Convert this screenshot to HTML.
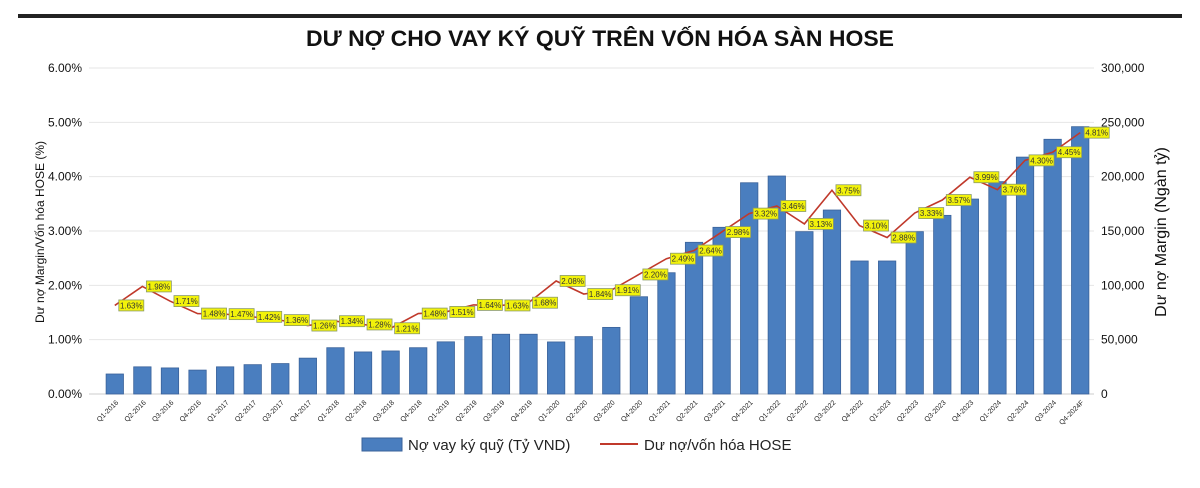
<!DOCTYPE html>
<html><head><meta charset="utf-8"><style>
body{margin:0;background:#fff;width:1200px;height:483px;overflow:hidden;font-family:"Liberation Sans",sans-serif}
</style></head><body>
<svg id="c" width="1200" height="483" xmlns="http://www.w3.org/2000/svg">
<rect x="18" y="14" width="1164" height="4" fill="#222"/>
<text x="600" y="46" text-anchor="middle" font-size="22" font-weight="bold" textLength="588" lengthAdjust="spacingAndGlyphs" fill="#111">DƯ NỢ CHO VAY KÝ QUỸ TRÊN VỐN HÓA SÀN HOSE</text>
<g id="grid"></g><g id="bars"></g><g id="line"></g><g id="labels"></g><g id="axes"></g>
<text transform="translate(44,232) rotate(-90)" text-anchor="middle" font-size="12" fill="#111">Dư nợ Margin/Vốn hóa HOSE  (%)</text>
<text transform="translate(1166,232) rotate(-90)" text-anchor="middle" font-size="16" fill="#111">Dư nợ Margin (Ngàn tỷ)</text>
<g>
<rect x="362" y="438" width="40" height="13" fill="#4a7ebf" stroke="#3a629a"/>
<text x="408" y="450" font-size="15" fill="#222">Nợ vay ký quỹ (Tỷ VND)</text>
<line x1="600" y1="444" x2="638" y2="444" stroke="#c0392b" stroke-width="2"/>
<text x="644" y="450" font-size="15" fill="#222">Dư nợ/vốn hóa HOSE</text>
</g>
</svg>
<script>
const categories=["Q1-2016","Q2-2016","Q3-2016","Q4-2016","Q1-2017","Q2-2017","Q3-2017","Q4-2017","Q1-2018","Q2-2018","Q3-2018","Q4-2018","Q1-2019","Q2-2019","Q3-2019","Q4-2019","Q1-2020","Q2-2020","Q3-2020","Q4-2020","Q1-2021","Q2-2021","Q3-2021","Q4-2021","Q1-2022","Q2-2022","Q3-2022","Q4-2022","Q1-2023","Q2-2023","Q3-2023","Q4-2023","Q1-2024","Q2-2024","Q3-2024","Q4-2024F"];
const loans=[18400,25000,24000,22000,25000,27000,28000,33000,42600,38700,39600,42600,48000,52800,55000,55000,47900,52800,61300,89500,111600,139600,153400,194400,200600,149400,169300,122400,122400,149400,164400,179400,195400,218000,234400,246000];
const ratio=[1.63,1.98,1.71,1.48,1.47,1.42,1.36,1.26,1.34,1.28,1.21,1.48,1.51,1.64,1.63,1.68,2.08,1.84,1.91,2.20,2.49,2.64,2.98,3.32,3.46,3.13,3.75,3.10,2.88,3.33,3.57,3.99,3.76,4.30,4.45,4.81];
const leftTicks=["0.00%","1.00%","2.00%","3.00%","4.00%","5.00%","6.00%"];
const rightTicks=["0","50,000","100,000","150,000","200,000","250,000","300,000"];
const NS="http://www.w3.org/2000/svg";
const X0=101,X1=1094,Y0=394,Y1=68;
const step=(X1-X0)/categories.length;
const xc=i=>X0+step*(i+0.5);
const yL=v=>Y0-(v/6)*(Y0-Y1);
const yR=v=>Y0-(v/300000)*(Y0-Y1);
function mk(tag,attrs,parent,text){const e=document.createElementNS(NS,tag);for(const k in attrs)e.setAttribute(k,attrs[k]);if(text!==undefined)e.textContent=text;document.getElementById(parent).appendChild(e);return e;}
leftTicks.forEach((t,i)=>{
 const y=yL(i);
 const g=mk('line',{x1:89,x2:X1,y1:y,y2:y,stroke:i==0?'#ccc':'#e6e6e6','stroke-width':1},'grid');
 
 
 const a=mk('text',{x:82,y:y+4,'text-anchor':'end','font-size':12,fill:'#111'},'axes',t);
 
 
 const b=mk('text',{x:1101,y:y+4,'font-size':12,fill:'#111'},'axes',rightTicks[i]);
 
 
});
const bw=step*0.63;
loans.forEach((v,i)=>{
 const r=mk('rect',{x:xc(i)-bw/2,y:yR(v),width:bw,height:Y0-yR(v),fill:'#4a7ebf',stroke:'#3a629a','stroke-width':0.8},'bars');
 
 
 const t=mk('text',{transform:`translate(${xc(i)+4},${Y0+9}) rotate(-45)`,'text-anchor':'end','font-size':7,fill:'#222'},'axes',categories[i]);
 
 
});
const pl=mk('polyline',{points:ratio.map((v,i)=>xc(i)+','+yL(v)).join(' '),fill:'none',stroke:'#c0392b','stroke-width':1.6},'line');


ratio.forEach((v,i)=>{
 const x=xc(i)+4,y=yL(v);
 const r=mk('rect',{x:x,y:y-5.5,width:25,height:11,fill:'#f2f20a',stroke:'#8a9a6a','stroke-width':0.8},'labels');
 
 
 const t=mk('text',{x:x+12.5,y:y+3,'text-anchor':'middle','font-size':8,fill:'#333'},'labels',v.toFixed(2)+'%');
 
 
});
</script>
</body></html>
